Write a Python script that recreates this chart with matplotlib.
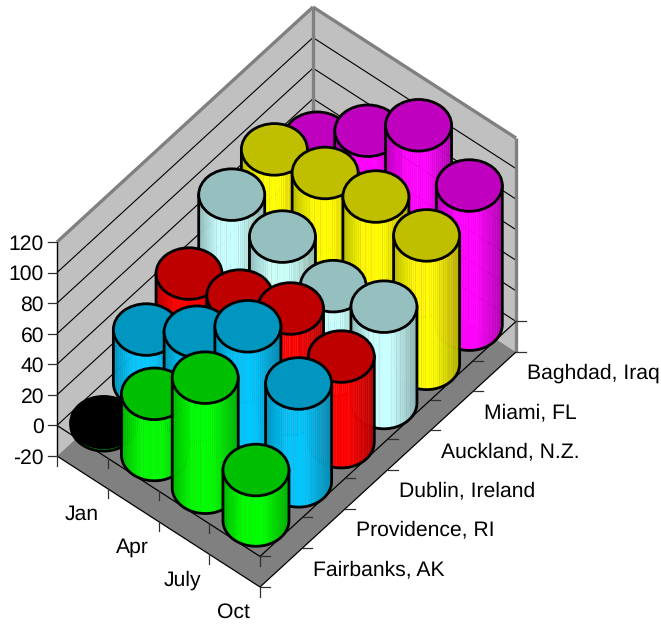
import numpy as np
import matplotlib
matplotlib.use("Agg")
import matplotlib.pyplot as plt
from matplotlib.collections import PolyCollection
from matplotlib.patches import Ellipse, Polygon

months = ["Jan", "Apr", "July", "Oct"]
cities = ["Fairbanks, AK", "Providence, RI", "Dublin, Ireland",
          "Auckland, N.Z.", "Miami, FL", "Baghdad, Iraq"]

fairbanks = [-2, 40, 72, 33]
providence = [35, 55, 80, 64]
dublin = [46, 53, 66, 56]
auckland = [72, 66, 55, 63]
miami = [76, 82, 88, 84]
baghdad = [58, 84, 109, 91]
temps = [fairbanks, providence, dublin, auckland, miami, baghdad]

side_colors = ["#00ff00", "#00c8ff", "#ff0000", "#c8ffff", "#ffff00", "#ff00ff"]
z_ticks = [-20, 0, 20, 40, 60, 80, 100, 120]
z_min, z_max = -20, 120

plt.rcParams["font.family"] = ["Liberation Sans", "DejaVu Sans"]
plt.rcParams["text.hinting"] = "no_hinting"

W, H = 661, 625
fig = plt.figure(figsize=(W / 100, H / 100), dpi=100)
ax = fig.add_axes([0, 0, 1, 1])
ax.set_xlim(0, W)
ax.set_ylim(H, 0)
ax.axis("off")

# oblique projection: month and city run 0..1 across the floor
origin = np.array([57.0, 456.0])
month_vec = np.array([203.0, 131.0])
city_vec = np.array([256.0, -235.0])
z_scale = 214.0 / (z_max - z_min)
rad_x, rad_y = 33.0, 25.8
label_size = 15.2


def proj(m, c, z):
    x = origin[0] + m * month_vec[0] + c * city_vec[0]
    y = origin[1] + m * month_vec[1] + c * city_vec[1] - (z - z_min) * z_scale
    return x, y


def line3(p, q, **kw):
    a, b = proj(*p), proj(*q)
    ax.plot([a[0], b[0]], [a[1], b[1]], solid_capstyle="butt", **kw)


# walls and floor
wall_left = [proj(0, 0, z_min), proj(0, 1, z_min), proj(0, 1, z_max), proj(0, 0, z_max)]
wall_right = [proj(0, 1, z_min), proj(1, 1, z_min), proj(1, 1, z_max), proj(0, 1, z_max)]
floor = [proj(0, 0, z_min), proj(1, 0, z_min), proj(1, 1, z_min), proj(0, 1, z_min)]
ax.add_patch(Polygon(wall_left, fc="#c0c0c0", ec="none"))
ax.add_patch(Polygon(wall_right, fc="#c0c0c0", ec="none"))
ax.add_patch(Polygon(floor, fc="#808080", ec="none"))

for z in z_ticks[1:-1]:
    line3((0, 0, z), (0, 1, z), color="black", lw=0.8)
    line3((0, 1, z), (1, 1, z), color="black", lw=0.8)

rim = dict(color="#808080", lw=2.4)
line3((0, 0, z_max), (0, 1, z_max), **rim)
line3((0, 1, z_max), (1, 1, z_max), **rim)
line3((0, 1, z_min), (0, 1, z_max), **rim)
line3((1, 1, z_min), (1, 1, z_max), **rim)

# axis lines on the floor and on the zero plane
for z in (z_min, 0):
    line3((0, 0, z), (1, 0, z), color="black", lw=0.9)
    line3((1, 0, z), (1, 1, z), color="black", lw=0.9)
    for i in range(1, len(months) + 1):
        x, y = proj(i / len(months), 0, z)
        ax.plot([x, x], [y, y + 9.5], color="#303030", lw=0.9)
    for j in range(len(cities) + 1):
        x, y = proj(1, j / len(cities), z)
        ax.plot([x, x + 9.5], [y, y], color="#303030", lw=0.9)

line3((0, 0, z_min), (0, 0, z_max), color="black", lw=1.0)
ax.plot([proj(0, 0, z_min)[0]] * 2,
        [proj(0, 0, z_min)[1], proj(0, 0, z_min)[1] + 9.5], color="#303030", lw=0.9)

for z in z_ticks:
    x, y = proj(0, 0, z)
    ax.plot([x - 9.5, x], [y, y], color="#303030", lw=0.9)
    ax.text(x - 13, y, str(z), ha="right", va="center_baseline", fontsize=label_size, color="black")

for i, name in enumerate(months):
    x, y = proj((i + 0.5) / len(months), 0, z_min)
    ax.text(x - 1, y + 47.5, name, ha="center", va="baseline", fontsize=label_size, color="black")

for j, name in enumerate(cities):
    x, y = proj(1, (j + 0.5) / len(cities), z_min)
    ax.text(x + 32, y + 7.5, name, ha="left", va="baseline", fontsize=label_size, color="black")


def shade(u):
    # brightness across the visible side, u runs 0..1 from left to right
    if u < 0.3:
        return 0.72 + 0.28 * u / 0.3
    if u < 0.62:
        return 1.0
    return 1.0 - 0.3 * (u - 0.62) / 0.38


# thin seams on the shaded sides, as fractions of the cylinder width
seams = [0.26, 0.33, 0.42, 0.6, 0.68, 0.75, 0.83, 0.9]

rim_t = np.linspace(np.pi, 0, 91)
strip_x = np.linspace(-rad_x, rad_x, 34)
strip_y = rad_y * np.sqrt(1 - (strip_x / rad_x) ** 2)

# cylinders, painted from the back corner to the front corner
order = 10
for j in range(len(cities) - 1, -1, -1):
    base = np.array(matplotlib.colors.to_rgb(side_colors[j]))
    for i in range(len(months)):
        v = temps[j][i]
        m = (i + 0.5) / len(months)
        c = (j + 0.5) / len(cities)
        z_top, z_bot = max(v, 0), min(v, 0)
        cx, top_y = proj(m, c, z_top)
        bot_y = proj(m, c, z_bot)[1]

        strips, colors = [], []
        for n in range(len(strip_x) - 1):
            x0, x1 = cx + strip_x[n], cx + strip_x[n + 1]
            strips.append([(x0, top_y), (x1, top_y), (x1, bot_y + strip_y[n + 1]), (x0, bot_y + strip_y[n])])
            colors.append(np.clip(base * shade((n + 0.5) / (len(strip_x) - 1)), 0, 1))
        ax.add_collection(PolyCollection(strips, facecolors=colors, edgecolors=colors,
                                         linewidths=0.3, zorder=order))

        for s in seams:
            sx = -rad_x + 2 * rad_x * s
            sy = rad_y * np.sqrt(1 - (sx / rad_x) ** 2)
            ax.plot([cx + sx, cx + sx], [top_y, bot_y + sy], color="#b06080", lw=0.5,
                    alpha=0.2, zorder=order + 0.05)

        arc_x = rad_x * np.cos(rim_t)
        arc_y = rad_y * np.sin(rim_t)
        out_x = np.concatenate([[cx - rad_x], cx + arc_x, [cx + rad_x]])
        out_y = np.concatenate([[top_y], bot_y + arc_y, [top_y]])
        ax.plot(out_x, out_y, color="black", lw=2.0, zorder=order + 0.1)

        cap = "black" if v < 0 else base * 0.75
        ax.add_patch(Ellipse((cx, top_y), 2 * rad_x, 2 * rad_y, fc=cap, ec="black", lw=2.0,
                             zorder=order + 0.2))
        order += 1

fig.savefig("out.png", dpi=100)
